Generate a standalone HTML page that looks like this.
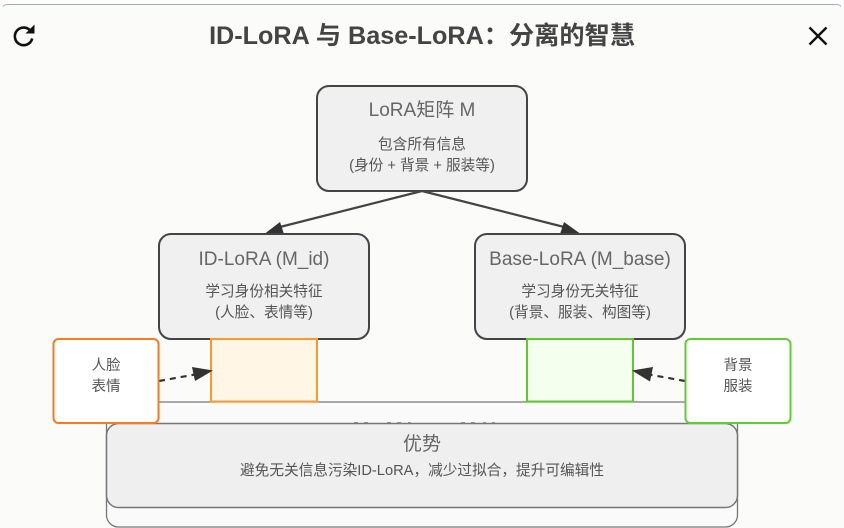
<!DOCTYPE html>
<html lang="zh">
<head>
<meta charset="utf-8">
<title>ID-LoRA 与 Base-LoRA</title>
<style>
html,body{margin:0;padding:0;width:844px;height:528px;overflow:hidden;background:#fff}
svg{display:block}
text{font-family:"Liberation Sans","Noto Sans CJK SC",sans-serif;text-anchor:middle;fill:#555}
.t{font-size:19px;fill:#666}
.s{font-size:14.67px;fill:#555}
.n{fill:#f0f0f0;stroke:#444;stroke-width:2}
</style>
</head>
<body>
<svg width="844" height="528" viewBox="0 0 844 528" xmlns="http://www.w3.org/2000/svg">
  <rect x="0" y="4" width="844" height="540" rx="8" fill="#fbfbfa"/>
  <path d="M3 6.500Q4 4.500 8 4.500H836Q840 4.500 841 6.500" fill="none" stroke="#a9adb4" stroke-width="1"/>

  <text x="422" y="44" style="font-size:25.2px;font-weight:700;fill:#444">ID-LoRA 与 Base-LoRA：分离的智慧</text>

  <g fill="none" stroke="#111" stroke-width="2.6">
    <path d="M31 31.500A8.800 8.800 0 1 0 32.200 38.500"/>
  </g>
  <path d="M34.500 24.500V33.500H25.500Z" fill="#111"/>
  <path d="M809.500 27.500L826.500 44.500M826.500 27.500L809.500 44.500" fill="none" stroke="#111" stroke-width="2.400"/>

  <!-- back panel -->
  <rect x="106.500" y="402" width="631" height="125" rx="12" fill="#fafafa" stroke="#777" stroke-width="1.300"/>
  <path d="M354 422.500h4M364 422.500h4M387 422.500h4M397 422.500h4M408 422.500h3M461 422.500h4M471 422.500h4M483 422.500h3M492 422.500h3" stroke="#999" stroke-width="1"/>
  <rect x="106.500" y="423.500" width="631" height="84" rx="12" fill="#efefef" stroke="#777" stroke-width="1.500"/>
  <text x="422" y="450" class="t">优势</text>
  <text x="422" y="475" class="s">避免无关信息污染ID-LoRA，减少过拟合，提升可编辑性</text>

  <!-- connectors -->
  <g fill="none" stroke="#444" stroke-width="2.200">
    <path d="M422 191L276 228"/>
    <path d="M422 191L568 228"/>
  </g>
  <path d="M265 233.500L280 222L284 234Z" fill="#333"/>
  <path d="M580 233.500L564 222L560 234Z" fill="#333"/>

  <!-- top node -->
  <rect x="317" y="86" width="210" height="105" rx="12" class="n"/>
  <text x="422" y="116" class="t">LoRA矩阵 M</text>
  <text x="422" y="149" class="s">包含所有信息</text>
  <text x="422" y="170" class="s">(身份 + 背景 + 服装等)</text>

  <!-- ID node -->
  <rect x="159" y="234" width="210" height="105" rx="12" class="n"/>
  <text x="264" y="265" class="t">ID-LoRA (M_id)</text>
  <text x="264" y="296" class="s">学习身份相关特征</text>
  <text x="264" y="317" class="s">(人脸、表情等)</text>

  <!-- Base node -->
  <rect x="475" y="234" width="210" height="105" rx="12" class="n"/>
  <text x="580" y="265" class="t">Base-LoRA (M_base)</text>
  <text x="580" y="296" class="s">学习身份无关特征</text>
  <text x="580" y="317" class="s">(背景、服装、构图等)</text>

  <!-- colored small rects -->
  <rect x="211" y="339" width="106" height="62.500" fill="#fff6e6" stroke="#fa9a2c" stroke-width="2"/>
  <rect x="527" y="339" width="106" height="62.500" fill="#f5ffee" stroke="#5ec82e" stroke-width="2"/>

  <!-- dashed connectors -->
  <path d="M159 381L195 374.500" fill="none" stroke="#333" stroke-width="2.200" stroke-dasharray="6 5"/>
  <path d="M213 370.500L192 367L195 381Z" fill="#333"/>
  <path d="M685 381L649 374.500" fill="none" stroke="#333" stroke-width="2.200" stroke-dasharray="6 5"/>
  <path d="M632 370.500L653 367L650 381.500Z" fill="#333"/>

  <!-- side nodes -->
  <rect x="53.500" y="339" width="105" height="84" rx="5" fill="#fff" stroke="#fa7a1e" stroke-width="2"/>
  <text x="106" y="370" class="s" style="font-size:14.5px">人脸</text>
  <text x="106" y="391" class="s" style="font-size:14.5px">表情</text>
  <rect x="685.500" y="339" width="105" height="84" rx="5" fill="#fff" stroke="#5ecf30" stroke-width="2"/>
  <text x="738" y="370" class="s" style="font-size:14.5px">背景</text>
  <text x="738" y="391" class="s" style="font-size:14.5px">服装</text>
</svg>
</body>
</html>
